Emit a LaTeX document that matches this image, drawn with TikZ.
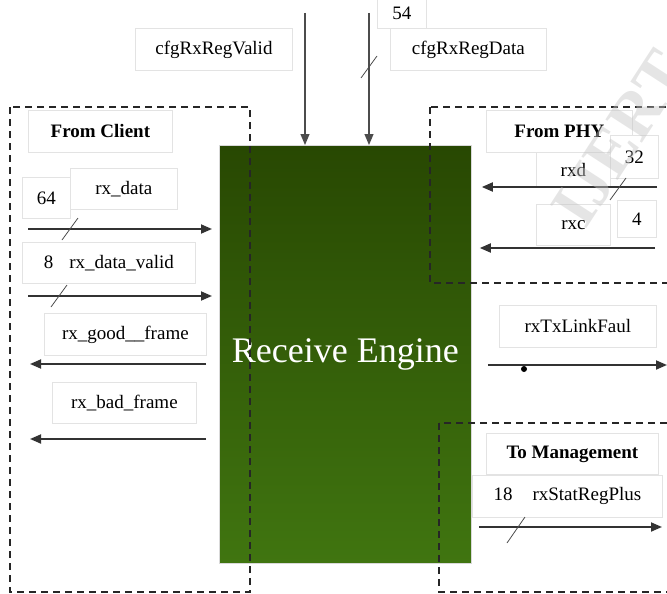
\documentclass[tikz,border=0pt]{standalone}
\usepackage{fontspec}
\setmainfont{Liberation Serif}
\usepackage{tikz}
\usetikzlibrary{arrows.meta, calc}

\definecolor{engtop}{RGB}{40,72,2}
\definecolor{engbot}{RGB}{64,117,16}

% bus width mark across a signal line
\newcommand{\busmark}[1]{\draw[bus] (#1) ++(-8,11) -- ++(16,-22);}

\begin{document}
\begin{tikzpicture}[x=1pt, y=-1pt,
  lbl/.style={draw=gray!22, line width=0.8pt, fill=white, anchor=north west,
    inner sep=0pt, font=\fontsize{19}{22}\selectfont},
  grp/.style={draw=black!85, line width=1.3pt, dash pattern=on 7pt off 5pt},
  sig/.style={draw=black!80, line width=1.8pt, -{Triangle[length=11pt,width=9pt]}},
  cfg/.style={draw=black!70, line width=1.2pt, -{Triangle[length=11pt,width=9pt]}},
  bus/.style={draw=black!70, line width=0.8pt},
  engine/.style={draw=gray!30, line width=0.8pt, top color=engtop, bottom color=engbot,
    text=white, anchor=north west, font=\fontsize{36}{40}\selectfont}]
\useasboundingbox (0,0) rectangle (667,594);

% main block
\node[engine, minimum width=252, minimum height=418] (eng) at (219,145) {Receive Engine};

% group frames
\draw[grp] (10,107) rectangle (250,592);
\draw[grp] (430,107) rectangle (690,283);
\draw[grp] (439,423) rectangle (690,592);

% top configuration inputs
\node[lbl, minimum width=157, minimum height=42] (vld) at (135,28) {cfgRxRegValid};
\node[lbl, minimum width=49, minimum height=30] (w54) at (377,-2) {54};
\node[lbl, minimum width=156, minimum height=42] (dat) at (390,28) {cfgRxRegData};
\coordinate (t1) at (305,13);
\coordinate (t2) at (369,13);
\draw[cfg] (t1) -- (t1 |- eng.north);
\draw[cfg] (t2) -- (t2 |- eng.north);
\busmark{369,67}

% from client
\node[lbl, minimum width=144, minimum height=42, font=\fontsize{19}{22}\selectfont\bfseries] (fc) at (28,110) {From Client};
\node[lbl, minimum width=48, minimum height=41] (w64) at (22,177) {64};
\node[lbl, minimum width=107, minimum height=41] (rxd1) at (70,168) {rx\_data};
\node[lbl, minimum width=173, minimum height=41] (rxdv) at (22,242) {8\hspace{16pt}rx\_data\_valid};
\coordinate (c1) at (28,229);
\coordinate (c2) at (28,296);
\draw[sig, shorten >=7pt] (c1) -- (c1 -| eng.west);
\draw[sig, shorten >=7pt] (c2) -- (c2 -| eng.west);
\busmark{70,229}
\busmark{59,296}

% to client
\node[lbl, minimum width=162, minimum height=42] (good) at (44,313) {rx\_good\_\_frame};
\node[lbl, minimum width=144, minimum height=41] (bad) at (52,382) {rx\_bad\_frame};
\coordinate (o1) at (30,364);
\coordinate (o2) at (30,439);
\draw[sig, shorten <=13pt] (o1 -| eng.west) -- (o1);
\draw[sig, shorten <=13pt] (o2 -| eng.west) -- (o2);

% from PHY
\node[lbl, minimum width=74, minimum height=35] (rxd) at (536,152) {rxd};
\node[lbl, minimum width=146, minimum height=42, font=\fontsize{19}{22}\selectfont\bfseries] (fp) at (486,110) {From PHY};
\node[lbl, minimum width=48, minimum height=43] (w32) at (610,135) {32};
\node[lbl, minimum width=74, minimum height=41] (rxc) at (536,204) {rxc};
\node[lbl, minimum width=39, minimum height=37] (w4) at (617,200) {4};
\coordinate (p1) at (657,187);
\coordinate (p2) at (655,248);
\draw[sig, shorten >=10pt] (p1) -- (p1 -| eng.east);
\draw[sig, shorten >=8pt] (p2) -- (p2 -| eng.east);
\busmark{618,189}

% link fault
\node[lbl, minimum width=157, minimum height=42] (lf) at (499,305) {rxTxLinkFaul};
\coordinate (o3) at (667,365);
\draw[sig, shorten <=16pt] (o3 -| eng.east) -- (o3);
\node[circle, fill=black, inner sep=0pt, minimum size=6pt] (tap) at (524,369) {};

% to management
\node[lbl, minimum width=172, minimum height=41, font=\fontsize{19}{22}\selectfont\bfseries] (tm) at (486,433) {To Management};
\node[lbl, minimum width=190, minimum height=42] (stat) at (472,475) {18\hspace{20pt}rxStatRegPlus};
\coordinate (o4) at (662,527);
\draw[sig, shorten <=7pt] (o4 -| eng.east) -- (o4);
\draw[bus] (507,543) -- (525,517);

% watermark
\node[rotate=57, text=gray!45, opacity=0.45, anchor=west,
  font=\fontsize{66}{66}\selectfont\bfseries] (wm) at (566,222) {IJERT};
\end{tikzpicture}
\end{document}
